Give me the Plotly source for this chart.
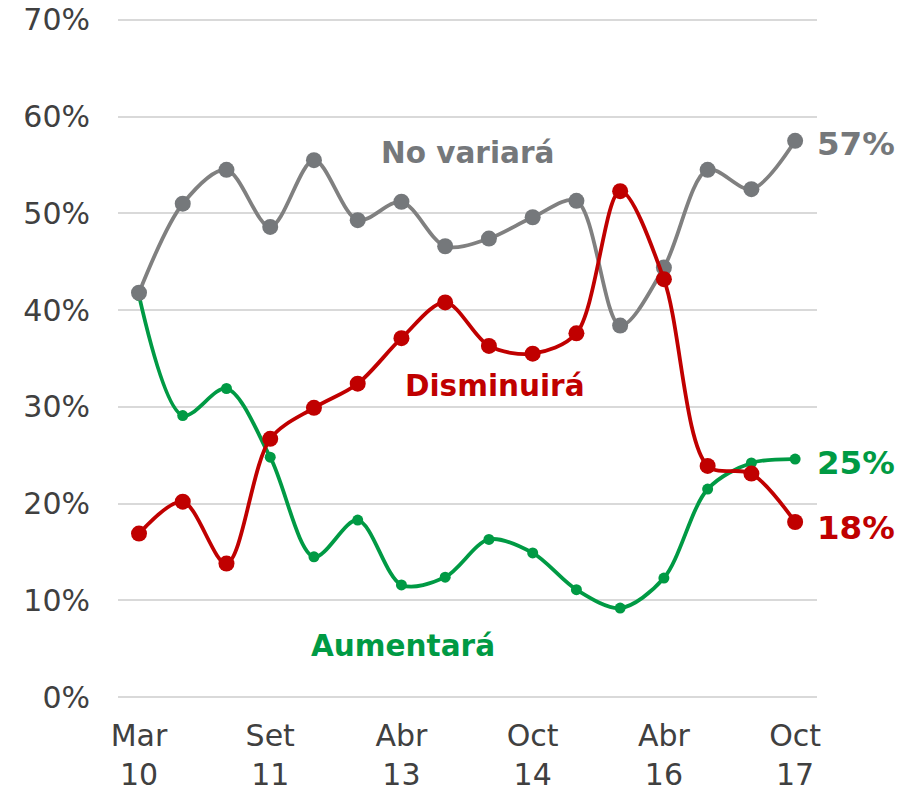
import plotly.graph_objects as go

periods = list(range(16))
tick_positions = [0, 3, 6, 9, 12, 15]
tick_labels = ["Mar<br>10", "Set<br>11", "Abr<br>13", "Oct<br>14", "Abr<br>16", "Oct<br>17"]
y_ticks = [0, 10, 20, 30, 40, 50, 60, 70]

no_variara = [41.8, 51.0, 54.5, 48.6, 55.5, 49.3, 51.2, 46.6, 47.4, 49.6, 51.3, 38.4, 44.4, 54.5, 52.5, 57.5]
disminuira = [16.9, 20.2, 13.8, 26.7, 29.9, 32.4, 37.1, 40.8, 36.3, 35.5, 37.6, 52.3, 43.2, 23.9, 23.1, 18.1]
aumentara = [41.5, 29.1, 31.9, 24.8, 14.5, 18.3, 11.6, 12.4, 16.3, 14.9, 11.1, 9.2, 12.3, 21.5, 24.2, 24.6]
end_labels = ["57%", "18%", "25%"]

GRAY_LINE = "#808080"
GRAY_MARK = "#75787B"
RED = "#C00000"
GREEN = "#009A44"
FONT = "DejaVu Sans"

fig = go.Figure()
series = [
    ("Aumentará", aumentara, GREEN, GREEN, 11),
    ("No variará", no_variara, GRAY_LINE, GRAY_MARK, 16),
    ("Disminuirá", disminuira, RED, RED, 16),
]
for name, vals, lc, mc, ms in series:
    fig.add_trace(go.Scatter(
        x=periods, y=vals, name=name, mode="lines+markers",
        line=dict(color=lc, width=3.8, shape="spline", smoothing=0.9),
        marker=dict(color=mc, size=ms),
        showlegend=False, cliponaxis=False,
    ))

labels = [
    ("No variará", 7.52, 56.2, GRAY_MARK),
    ("Disminuirá", 8.14, 32.2, RED),
    ("Aumentará", 6.04, 5.25, GREEN),
]
for text, xx, yy, c in labels:
    fig.add_annotation(x=xx, y=yy, text=f"<b>{text}</b>", showarrow=False,
                       font=dict(family=FONT, size=29.5, color=c))

ends = [(no_variara, GRAY_MARK, -3), (disminuira, RED, -6), (aumentara, GREEN, -4)]
for (vals, c, ys), lab in zip(ends, end_labels):
    fig.add_annotation(x=periods[-1], y=vals[-1], text=f"<b>{lab}</b>",
                       showarrow=False, xanchor="left", xshift=20, yshift=ys,
                       font=dict(family=FONT, size=32.5, color=c))

# page body has an 8px default margin, so the figure is 8px smaller and offset
fig.update_layout(
    width=904, height=782,
    margin=dict(l=110, r=95, t=9, b=90),
    plot_bgcolor="white", paper_bgcolor="white",
    font=dict(family=FONT, size=30, color="#404040"),
    xaxis=dict(range=[-0.48, 15.5], tickvals=tick_positions, ticktext=tick_labels,
               showgrid=False, zeroline=False, showline=False, ticks="",
               automargin=False, ticklabelstandoff=15, ticklabeloverflow="allow",
               tickfont=dict(size=30, color="#404040")),
    yaxis=dict(range=[-0.3, 70.3], tickvals=y_ticks, ticktext=[f"{v}%" for v in y_ticks],
               showgrid=True, gridcolor="#D9D9D9", gridwidth=1.5, zeroline=False,
               showline=False, ticks="", ticklabelstandoff=27, automargin=False,
               ticklabeloverflow="allow",
               tickfont=dict(size=30, color="#404040")),
)

fig.write_html("out.html")
